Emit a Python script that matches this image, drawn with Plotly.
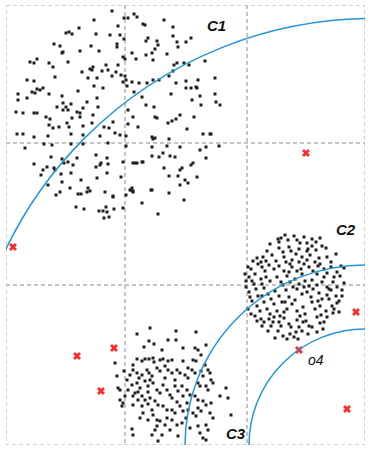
import plotly.graph_objects as go

# ---- data (pixel-like coordinates of the original drawing; y grows downward) ----
c1_pts = [(112,11),(124,18),(128,18),(134,14),(137,17),(94,20),(118,26),(143,24),(145,25),(164,20),(173,27),(79,28),(66,33),(69,32),(72,34),(96,34),(110,35),(120,35),(124,39),(146,41),(148,38),(157,41),(158,45),(173,36),(177,42),(178,47),(186,42),(191,38),(54,44),(60,46),(63,52),(62,53),(80,51),(91,46),(99,51),(117,44),(117,47),(132,53),(136,59),(146,55),(152,53),(153,60),(155,49),(167,54),(123,57),(125,59),(30,62),(34,63),(37,59),(49,63),(53,67),(68,62),(93,67),(92,70),(90,69),(106,65),(108,70),(102,71),(82,72),(118,65),(116,72),(121,75),(125,76),(126,80),(174,65),(177,63),(184,63),(189,65),(169,76),(173,71),(159,80),(153,80),(147,83),(139,83),(132,82),(127,86),(123,82),(176,83),(186,81),(186,88),(88,78),(97,78),(112,76),(55,77),(27,80),(34,81),(103,88),(94,86),(78,91),(62,96),(49,94),(43,88),(40,90),(37,89),(35,93),(32,92),(18,94),(18,100),(27,98),(97,98),(87,102),(134,92),(142,97),(171,94),(191,88),(192,100),(63,103),(66,107),(68,110),(63,110),(71,104),(57,107),(83,108),(98,107),(77,112),(80,113),(80,117),(16,112),(23,113),(34,113),(37,113),(46,117),(50,119),(72,118),(93,115),(128,110),(133,117),(146,105),(154,107),(155,117),(157,118),(168,123),(172,121),(176,119),(180,115),(187,129),(113,122),(109,128),(104,127),(92,123),(83,126),(69,127),(67,123),(59,127),(49,125),(53,128),(128,124),(138,127),(120,135),(126,136),(115,133),(100,136),(83,135),(71,134),(48,136),(34,137),(23,134),(17,134),(152,137),(153,139),(155,138),(169,139),(25,148),(44,144),(52,145),(71,144),(83,144),(108,143),(126,146),(152,147),(167,146),(180,147),(163,153),(159,157),(170,156),(175,157),(152,156),(142,162),(143,162),(133,163),(135,163),(137,163),(123,162),(108,164),(107,158),(101,163),(100,165),(96,155),(96,167),(77,158),(73,165),(68,162),(62,159),(64,163),(51,157),(54,168),(55,170),(47,167),(43,170),(41,175),(34,164),(61,174),(71,173),(81,180),(97,178),(107,173),(48,185),(62,182),(88,188),(90,191),(87,192),(70,188),(60,192),(56,195),(78,194),(81,194),(113,197),(105,192),(132,188),(133,192),(130,190),(152,190),(169,193),(178,176),(180,170),(182,168),(185,180),(188,183),(180,185),(184,200),(142,203),(158,214),(114,209),(106,207),(107,212),(103,211),(99,211),(104,218),(109,217),(76,207),(84,209),(191,165),(164,168),(169,176),(205,61),(198,80),(215,78),(196,87),(197,88),(200,96),(215,94),(201,105),(216,102),(220,105),(194,117),(203,134),(210,134),(211,134),(206,147),(200,150),(219,146),(206,158),(197,177),(193,163),(123,208),(121,177),(126,195),(131,190),(133,191),(151,190),(113,196)]

c2_pts = [(281,238),(279,242),(285,235),(288,240),(294,236),(297,240),(304,237),(307,243),(308,249),(312,239),(316,242),(320,238),(322,246),(289,247),(291,251),(279,248),(283,252),(299,249),(267,251),(272,255),(276,261),(263,257),(257,258),(253,261),(284,257),(286,262),(296,254),(292,260),(302,257),(307,260),(304,264),(310,255),(315,262),(319,258),(320,264),(327,257),(331,262),(336,254),(341,266),(344,268),(248,267),(251,269),(258,264),(262,267),(265,271),(269,265),(274,269),(279,266),(284,271),(289,272),(292,267),(297,271),(301,269),(302,274),(309,267),(313,271),(317,274),(324,269),(327,273),(331,267),(337,272),(340,276),(245,274),(249,277),(252,281),(255,274),(261,279),(266,277),(270,281),(277,277),(281,282),(287,276),(290,282),(295,279),(299,284),(305,281),(309,286),(312,280),(317,285),(322,282),(327,287),(333,282),(337,287),(246,287),(249,292),(256,289),(258,296),(264,288),(268,294),(275,291),(279,296),(286,290),(289,297),(297,289),(302,294),(307,292),(311,297),(319,293),(322,299),(327,295),(331,290),(336,296),(339,301),(342,290),(252,301),(257,306),(260,311),(264,302),(267,309),(270,314),(274,304),(277,311),(280,316),(282,302),(287,309),(292,304),(297,311),(303,307),(305,314),(312,302),(315,309),(317,317),(320,306),(326,311),(329,299),(332,306),(334,309),(339,312),(255,316),(261,319),(264,322),(269,319),(271,326),(274,317),(279,322),(284,318),(289,324),(291,327),(297,320),(299,327),(306,321),(309,326),(321,315),(324,322),(312,327),(317,332),(290,334),(294,337),(302,331),(278,331),(323,329),(248,309),(251,314),(257,321),(262,326),(283,336),(298,339),(287,339),(270,244),(300,243),(316,250),(326,248),(261,262),(290,264),(318,266),(334,277),(262,284),(283,285),(304,287),(329,289),(250,297),(271,299),(295,300),(318,301),(337,303),(284,312),(300,316),(327,317),(268,331),(308,334),(275,338),(278,239),(312,246),(266,261),(299,262),(324,277),(254,284),(293,287),(344,283),(262,296),(313,289),(285,302),(333,313),(273,322),(303,322),(281,326),(320,323),(296,332),(246,281),(342,296),(307,251)]

c3_pts = [(137,334),(150,328),(176,331),(144,347),(149,341),(154,344),(162,350),(168,340),(176,340),(183,348),(115,363),(117,376),(124,371),(133,365),(133,370),(137,359),(142,361),(145,359),(149,359),(153,358),(154,362),(160,360),(163,359),(168,361),(172,360),(183,361),(188,368),(137,373),(142,375),(147,370),(149,373),(152,376),(157,368),(160,371),(165,366),(168,370),(172,373),(177,370),(180,373),(185,375),(192,370),(127,380),(132,385),(137,383),(140,388),(145,381),(148,386),(153,383),(157,390),(160,393),(163,385),(167,390),(170,395),(175,386),(178,391),(182,386),(187,390),(118,388),(120,390),(133,396),(135,393),(125,396),(142,396),(145,400),(150,398),(155,401),(158,405),(163,406),(167,410),(172,410),(175,413),(180,406),(183,411),(187,403),(120,400),(122,406),(123,403),(133,405),(142,406),(143,413),(152,410),(153,415),(157,420),(160,421),(167,418),(172,420),(177,425),(182,423),(132,429),(133,435),(157,426),(155,430),(152,435),(162,435),(158,441),(178,436),(196,332),(206,345),(195,348),(198,350),(201,355),(193,360),(196,361),(205,365),(208,370),(210,373),(201,371),(203,376),(195,373),(211,380),(213,383),(198,383),(200,386),(206,386),(208,390),(226,388),(220,396),(228,398),(195,396),(198,400),(203,401),(206,405),(211,403),(198,408),(201,411),(193,413),(196,416),(210,413),(213,418),(231,415),(206,425),(208,430),(198,426),(200,433),(203,438),(206,440),(130,375),(139,378),(150,380),(165,378),(175,380),(188,378),(128,390),(138,392),(148,392),(172,398),(183,396),(190,395),(138,400),(148,404),(177,402),(188,410),(148,420),(165,425),(186,418),(140,418),(170,430),(190,428)]

outlier_x = [13, 77, 114, 101, 306, 356, 299, 347]
outlier_y = [247, 356, 348, 391, 153, 312, 350, 409]

# circles: (centre x, centre y, radius)
circles = [(373, 426, 407.5), (365, 445, 180), (365, 445, 116)]

grid_x = [125, 247]
grid_y = [143, 285]
frame = (6, 365, 5, 445)  # x0, x1, y_top, y_bottom

labels = [("C1", 216, 25), ("C2", 346, 229), ("C3", 236, 433)]

fig = go.Figure()

pt_color = "#1e1e1e"
for pts in (c1_pts, c2_pts, c3_pts):
    fig.add_trace(go.Scatter(
        x=[p[0] for p in pts], y=[p[1] for p in pts], mode="markers",
        marker=dict(symbol="square", size=3, color=pt_color, line=dict(width=0)),
        showlegend=False, hoverinfo="skip"))

fig.add_trace(go.Scatter(
    x=outlier_x, y=outlier_y, mode="markers",
    marker=dict(symbol="x", size=7, color="#ff2a2a", line=dict(width=0)),
    showlegend=False, hoverinfo="skip"))

for cx, cy, r in circles:
    fig.add_shape(type="circle", xref="x", yref="y",
                  x0=cx - r, x1=cx + r, y0=cy - r, y1=cy + r,
                  line=dict(color="#2496d6", width=1.5), layer="above")

fig.add_shape(type="rect", xref="x", yref="y", x0=frame[0], x1=frame[1], y0=frame[2], y1=frame[3],
              line=dict(color="#c4c4c4", width=1.5, dash="4px,3px"), layer="below")

for text, x, y in labels:
    fig.add_annotation(x=x, y=y, text=f"<b><i>{text}</i></b>", showarrow=False,
                       font=dict(family="Liberation Sans, Arial", size=15, color="#111"))
fig.add_annotation(x=316, y=360, text="<i>o4</i>", showarrow=False,
                   font=dict(family="Liberation Sans, Arial", size=14, color="#111"))
fig.add_annotation(x=377, y=456, text="<i>p1</i>", showarrow=False,
                   font=dict(family="Liberation Sans, Arial", size=14, color="#111"))

axis_common = dict(showticklabels=False, ticks="", zeroline=False, showline=False,
                   showgrid=True, gridcolor="#c4c4c4", gridwidth=1.5, griddash="4px,3px")
fig.update_layout(
    width=386, height=466,
    margin=dict(l=frame[0], r=386 - frame[1], t=frame[2], b=466 - frame[3]),
    paper_bgcolor="white", plot_bgcolor="white",
    xaxis=dict(range=[frame[0], frame[1]], tickvals=grid_x, **axis_common),
    yaxis=dict(range=[frame[3], frame[2]], tickvals=grid_y, **axis_common),
)

fig.write_html("out.html")
